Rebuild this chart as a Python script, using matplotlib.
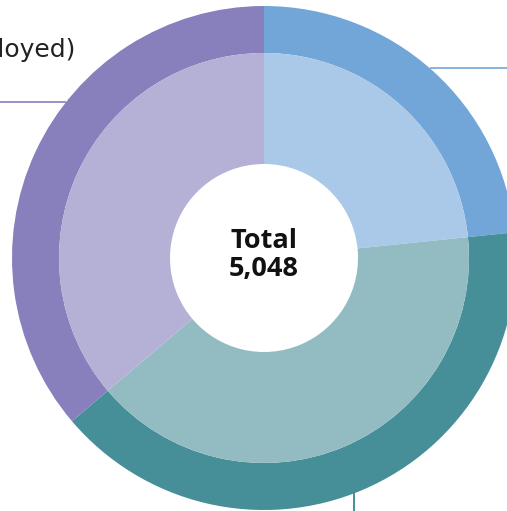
import matplotlib
matplotlib.use("Agg")
import matplotlib.pyplot as plt

categories = ["Blue group", "Teal group", "Purple group"]
values = [1180, 2040, 1828]
outer_colors = ["#72a5d8", "#468e98", "#8780bc"]
inner_colors = ["#aac9e8", "#93bcc2", "#b4b0d6"]
total_label = "Total\n5,048"
left_label = "(employed)"

W, H = 507, 511
fig = plt.figure(figsize=(W / 100, H / 100), dpi=100)
ax = fig.add_axes([0, 0, 1, 1])

cx, cy = 264, H - 258
R_out, R_in, R_hole = 252, 205, 94

ax.pie(values, colors=outer_colors, startangle=90, counterclock=False,
       radius=R_out, center=(cx, cy), frame=True,
       wedgeprops=dict(width=R_out - R_in, edgecolor="none", linewidth=0))
ax.pie(values, colors=inner_colors, startangle=90, counterclock=False,
       radius=R_in, center=(cx, cy), frame=True,
       wedgeprops=dict(width=R_in - R_hole, edgecolor="none", linewidth=0))

ax.text(cx, cy + 3, total_label, ha="center", va="center", fontsize=19.5,
        fontweight="bold", family="Open Sans", color="#111111", linespacing=1.12)

# leader lines
ax.plot([0, 66], [H - 102, H - 102], color="#8780bc", lw=1.2, solid_capstyle="butt")
ax.plot([430, W], [H - 68, H - 68], color="#72a5d8", lw=1.2, solid_capstyle="butt")
ax.plot([354, 354], [H - 490, 0], color="#468e98", lw=1.4, solid_capstyle="butt")

ax.text(76, H - 57, left_label, ha="right", va="baseline", fontsize=18,
        family="DejaVu Sans", color="#222222")

ax.set_xlim(0, W)
ax.set_ylim(0, H)
ax.set_aspect("auto")
ax.axis("off")
fig.savefig("out.png", dpi=100)
